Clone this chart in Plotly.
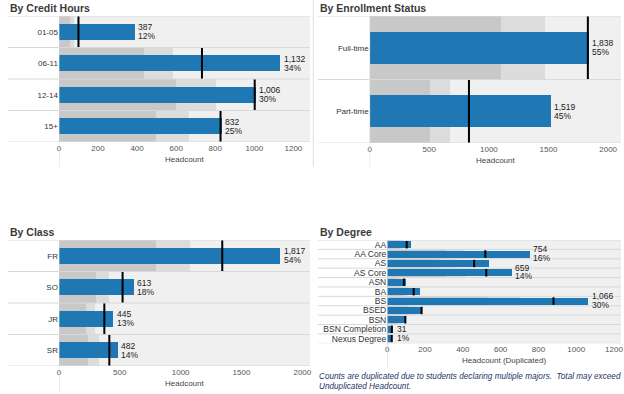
import plotly.graph_objects as go

# ---------------- DATA ----------------
credit_cats = ["01-05", "06-11", "12-14", "15+"]
credit_vals = [387, 1132, 1006, 832]
credit_pct = ["12%", "34%", "30%", "25%"]
credit_target = [100, 732, 1002, 827]
credit_band_dark = [55, 437, 597, 497]
credit_band_mid = [78, 583, 802, 663]

enroll_cats = ["Full-time", "Part-time"]
enroll_vals = [1838, 1519]
enroll_pct = ["55%", "45%"]
enroll_target = [1830, 833]
enroll_band_dark = [1100, 500]
enroll_band_mid = [1467, 667]

class_cats = ["FR", "SO", "JR", "SR"]
class_vals = [1817, 613, 445, 482]
class_pct = ["54%", "18%", "13%", "14%"]
class_target = [1342, 523, 373, 414]
class_band_dark = [797, 308, 218, 242]
class_band_mid = [1075, 411, 294, 332]

degree_cats = ["AA", "AA Core", "AS", "AS Core", "ASN", "BA", "BS", "BSED", "BSN",
               "BSN Completion", "Nexus Degree"]
degree_vals = [126, 754, 538, 659, 100, 175, 1066, 182, 95, 31, 21]
degree_pct = ["", "16%", "", "14%", "", "", "30%", "", "", "1%", ""]
degree_show = [False, True, False, True, False, False, True, False, False, True, False]
degree_target = [103, 519, 460, 524, 88, 140, 880, 182, 96, 24, 24]
degree_band_dark = [62, 311, 276, 314, 53, 84, 528, 109, 58, 14, 14]
degree_band_mid = [82, 415, 368, 419, 70, 112, 704, 146, 77, 19, 19]

credit_ticks = [0, 200, 400, 600, 800, 1000, 1200]
enroll_ticks = [0, 500, 1000, 1500, 2000]
class_ticks = [0, 500, 1000, 1500, 2000]
degree_ticks = [0, 200, 400, 600, 800, 1000, 1200]

# ---------------- LAYOUT HELPERS ----------------
W, H = 624, 394
def px(x): return x / W
def py(y): return 1 - y / H

BLUE = "#1f77b4"
DARK = "#c8c8c8"
MID = "#dcdcdc"
BG = "#f0f0f0"
SEP = "#d9d9d9"
FONT = "Liberation Sans, Arial, sans-serif"
TFONT = "Liberation Sans, Arial, sans-serif"

panels = [
    dict(cats=credit_cats, vals=credit_vals, pct=credit_pct, tgt=credit_target,
         dark=credit_band_dark, mid=credit_band_mid, ticks=credit_ticks,
         x0=57.3, x1=310, y0=16, y1=142, rng=1285, title="By Credit Hours",
         tx=6, ty=8, axtitle="Headcount", sepx0=6, sepx1=310, axline_bottom=167,
         show=None, bw=0.5),
    dict(cats=enroll_cats, vals=enroll_vals, pct=enroll_pct, tgt=enroll_target,
         dark=enroll_band_dark, mid=enroll_band_mid, ticks=enroll_ticks,
         x0=370, x1=623, y0=16, y1=143, rng=2108, title="By Enrollment Status",
         tx=318, ty=8, axtitle="Headcount", sepx0=318, sepx1=623, axline_bottom=167,
         show=None, bw=0.5),
    dict(cats=class_cats, vals=class_vals, pct=class_pct, tgt=class_target,
         dark=class_band_dark, mid=class_band_mid, ticks=class_ticks,
         x0=57.3, x1=310, y0=240, y1=366, rng=2063, title="By Class",
         tx=6, ty=232, axtitle="Headcount", sepx0=6, sepx1=310, axline_bottom=392,
         show=None, bw=0.5),
    dict(cats=degree_cats, vals=degree_vals, pct=degree_pct, tgt=degree_target,
         dark=degree_band_dark, mid=degree_band_mid, ticks=degree_ticks,
         x0=387.7, x1=623, y0=240, y1=343.3, rng=1237, title="By Degree",
         tx=318, ty=232, axtitle="Headcount (Duplicated)", sepx0=318, sepx1=623,
         axline_bottom=367, show=degree_show, bw=0.75),
]

fig = go.Figure()
shapes = []
annotations = []
layout_axes = {}

for k, p in enumerate(panels):
    sfx = "" if k == 0 else str(k + 1)
    xa, ya = "x" + sfx, "y" + sfx
    n = len(p["cats"])
    fs = 8 if k < 3 else 8.5
    for vals, color, width in [(p["mid"], MID, 1.0), (p["dark"], DARK, 1.0),
                               (p["vals"], BLUE, p["bw"])]:
        fig.add_trace(go.Bar(x=vals, y=p["cats"], orientation="h", width=width,
                             marker=dict(color=color, line=dict(width=0)),
                             xaxis=xa, yaxis=ya, showlegend=False, hoverinfo="skip"))
    layout_axes["xaxis" + sfx] = dict(
        domain=[px(p["x0"]), px(p["x1"])], anchor=ya, range=[0, p["rng"]],
        tickmode="array", tickvals=p["ticks"], ticktext=[str(t) for t in p["ticks"]],
        showgrid=False, zeroline=False, showline=False, ticks="",
        tickfont=dict(family=FONT, size=8, color="#555555"), fixedrange=True)
    layout_axes["yaxis" + sfx] = dict(
        domain=[py(p["y1"]), py(p["y0"])], anchor=xa, type="category",
        categoryorder="array", categoryarray=p["cats"], range=[n - 0.5, -0.5],
        tickmode="array", tickvals=p["cats"], ticktext=p["cats"],
        showgrid=False, zeroline=False, showline=False, ticks="",
        tickfont=dict(family=FONT, size=fs, color="#333333"), fixedrange=True)

    # targets
    for i, t in enumerate(p["tgt"]):
        lo, hi = (i - 0.5, i + 0.5) if k < 3 else (i - 0.4, i + 0.4)
        shapes.append(dict(type="line", xref=xa, yref=ya, x0=t, x1=t, y0=lo, y1=hi,
                           line=dict(color="black", width=2), layer="above"))
    # row separators
    for i in range(n + 1):
        shapes.append(dict(type="line", xref="paper", yref=ya,
                           x0=px(p["sepx0"]), x1=px(p["sepx1"]), y0=i - 0.5, y1=i - 0.5,
                           line=dict(color=SEP, width=1), layer="above"))
    # axis line (zero) extending down
    shapes.append(dict(type="line", xref=xa, yref="paper", x0=0, x1=0,
                       y0=py(p["axline_bottom"]), y1=py(p["y0"]),
                       line=dict(color="#d4d4d4", width=1), layer="above"))
    # value labels
    for i, (v, pc) in enumerate(zip(p["vals"], p["pct"])):
        if p["show"] is not None and not p["show"][i]:
            continue
        if k == 3 and p["cats"][i] == "BSN Completion":
            s1, s2 = 0, -9
        elif k == 3:
            s1, s2 = 5, -3.5
        else:
            s1, s2 = 4.3, -4.3
        annotations.append(dict(x=v, y=p["cats"][i], xref=xa, yref=ya, text=f"{v:,}",
                                showarrow=False, xanchor="left", yanchor="middle",
                                xshift=1.5, yshift=s1,
                                font=dict(family=FONT, size=8.5, color="#222222")))
        annotations.append(dict(x=v, y=p["cats"][i], xref=xa, yref=ya, text=pc,
                                showarrow=False, xanchor="left", yanchor="middle",
                                xshift=1.5, yshift=s2,
                                font=dict(family=FONT, size=8.5, color="#222222")))
    # panel title
    annotations.append(dict(x=px(p["tx"]), y=py(p["ty"]), xref="paper", yref="paper",
                            text=p["title"], showarrow=False, xanchor="left",
                            yanchor="middle",
                            font=dict(family=TFONT, size=10.5, color="#3a3a3a",
                                      weight="bold")))
    # axis title
    ay = p["y1"] + 17
    annotations.append(dict(x=(px(p["x0"]) + px(p["x1"])) / 2, y=py(ay), xref="paper",
                            yref="paper", text=p["axtitle"], showarrow=False,
                            xanchor="center", yanchor="middle",
                            font=dict(family=FONT, size=8, color="#444444")))

# panel divider (top row)
shapes.append(dict(type="line", xref="paper", yref="paper", x0=px(313.3), x1=px(313.3),
                   y0=py(167), y1=py(0), line=dict(color="#dedede", width=1)))

# footnote
annotations.append(dict(x=px(317), y=py(376), xref="paper", yref="paper",
                        text="<i>Counts are duplicated due to students declaring multiple majors.  Total may exceed</i>",
                        showarrow=False, xanchor="left", yanchor="middle",
                        font=dict(family=FONT, size=8.2, color="#1f3566")))
annotations.append(dict(x=px(317), y=py(386), xref="paper", yref="paper",
                        text="<i>Unduplicated Headcount.</i>",
                        showarrow=False, xanchor="left", yanchor="middle",
                        font=dict(family=FONT, size=8.2, color="#1f3566")))

fig.update_layout(
    width=W, height=H, margin=dict(l=0, r=0, t=0, b=0),
    paper_bgcolor="white", plot_bgcolor=BG, barmode="overlay", bargap=0,
    shapes=shapes, annotations=annotations, showlegend=False,
    **layout_axes,
)

fig.write_html("out.html", config={"displayModeBar": False},
               post_script="document.body.style.margin='0';document.body.style.padding='0';document.body.style.overflow='hidden';")
